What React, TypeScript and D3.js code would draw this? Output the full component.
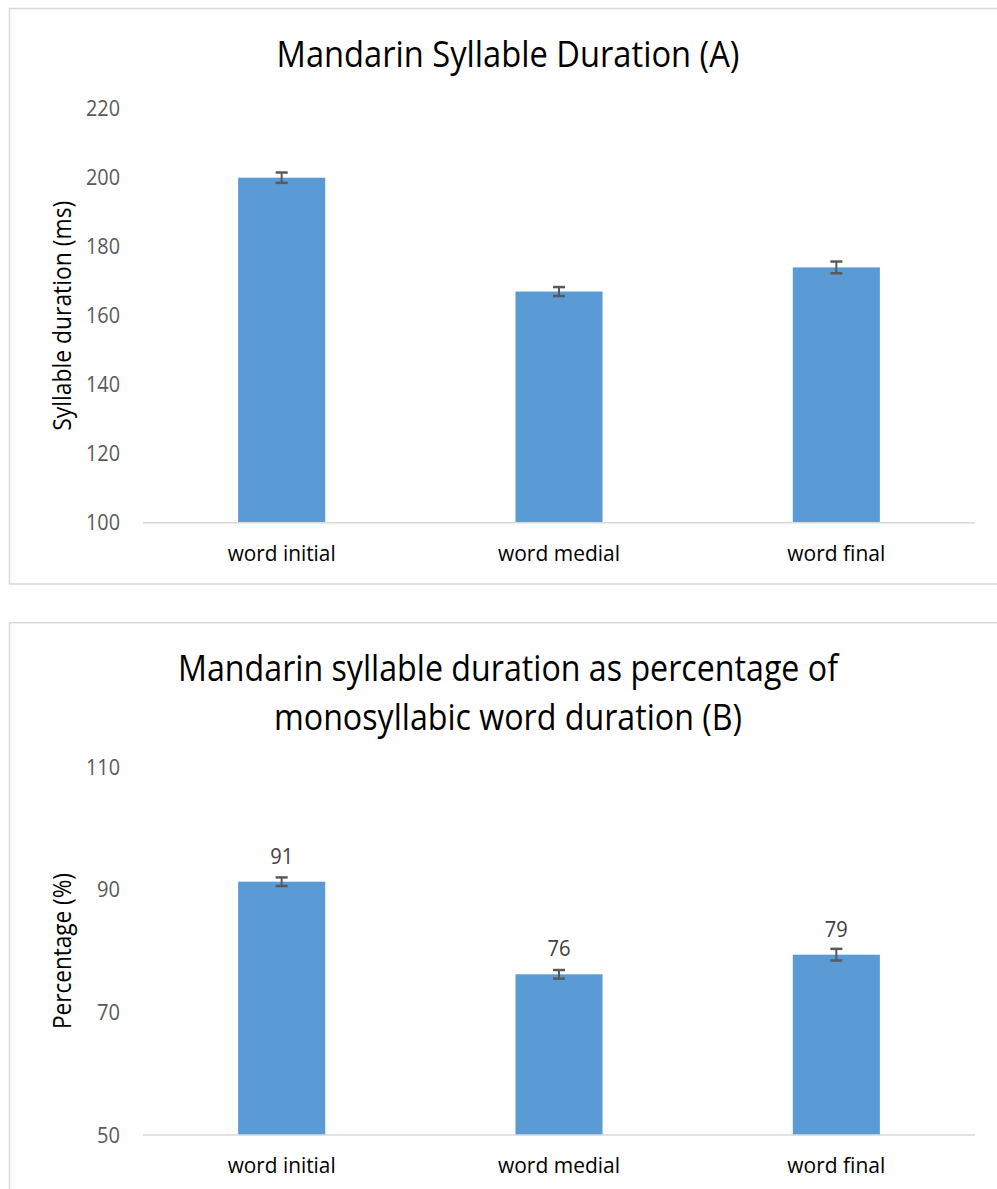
import React from "react";
import * as d3 from "d3";

const categories = ["word initial", "word medial", "word final"];
const durationMs = [200, 167, 174];
const durationErr = [1.5, 1.3, 1.7];
const durationTicks = [100, 120, 140, 160, 180, 200, 220];

const percentValues = [91.3, 76.2, 79.4];
const percentErr = [0.7, 0.7, 0.95];
const percentTicks = [50, 70, 90, 110];

const FONT = "'Open Sans', sans-serif";
const BAR = "#5b9bd5";
const GRAY = "#595959";
const LINE = "#d9d9d9";

type PanelProps = {
  top: number;
  bottom: number;
  axisY: number;
  plotTop: number;
  domain: [number, number];
  ticks: number[];
  values: number[];
  errs: number[];
  showLabels: boolean;
  yTitle: string;
  yTitleLen: number;
  titleLines: { text: string; y: number; len: number }[];
  panelBottom: number;
};

function Panel(p: PanelProps) {
  const x = d3
    .scaleBand<string>()
    .domain(categories)
    .range([143, 975])
    .paddingInner(0.686)
    .paddingOuter(0.343);
  const y = d3.scaleLinear().domain(p.domain).range([p.axisY, p.plotTop]);
  const midY = (p.axisY + p.plotTop) / 2;
  return (
    <g>
      <rect
        x={9.5}
        y={p.top}
        width={1000}
        height={p.panelBottom - p.top}
        fill="#fff"
        stroke={LINE}
        strokeWidth={1.5}
      />
      {p.titleLines.map((t, i) => (
        <text
          key={i}
          x={508}
          y={t.y}
          textAnchor="middle"
          fontFamily={FONT}
          fontSize={36}
          fill="#000"
          textLength={t.len}
          lengthAdjust="spacingAndGlyphs"
        >
          {t.text}
        </text>
      ))}
      <text
        transform={`translate(71,${midY}) rotate(-90)`}
        textAnchor="middle"
        fontFamily={FONT}
        fontSize={26}
        fill="#000"
        textLength={p.yTitleLen}
        lengthAdjust="spacingAndGlyphs"
      >
        {p.yTitle}
      </text>
      {p.ticks.map((t) => (
        <text
          key={t}
          x={120}
          y={y(t)}
          dy="0.36em"
          textAnchor="end"
          fontFamily={FONT}
          fontSize={21}
          fill={GRAY}
          textLength={t >= 100 ? 34 : 23}
          lengthAdjust="spacingAndGlyphs"
        >
          {t}
        </text>
      ))}
      {categories.map((c, i) => {
        const x0 = x(c)!;
        const cx = x0 + x.bandwidth() / 2;
        const v = p.values[i];
        const e = p.errs[i];
        return (
          <g key={c}>
            <rect
              x={x0}
              y={y(v)}
              width={x.bandwidth()}
              height={p.axisY - y(v)}
              fill={BAR}
            />
            <line x1={cx} x2={cx} y1={y(v + e)} y2={y(v - e)} stroke={GRAY} strokeWidth={2} />
            <line x1={cx - 6} x2={cx + 6} y1={y(v + e)} y2={y(v + e)} stroke={GRAY} strokeWidth={2.5} />
            <line x1={cx - 6} x2={cx + 6} y1={y(v - e)} y2={y(v - e)} stroke={GRAY} strokeWidth={2.5} />
            {p.showLabels && (
              <text
                x={cx}
                y={y(v) - 18}
                textAnchor="middle"
                fontFamily={FONT}
                fontSize={21}
                fill="#404040"
                textLength={23}
                lengthAdjust="spacingAndGlyphs"
              >
                {Math.round(v)}
              </text>
            )}
            <text
              x={cx}
              y={p.axisY + 38}
              textAnchor="middle"
              fontFamily={FONT}
              fontSize={22}
              fill="#000"
              textLength={c === "word final" ? 98 : c === "word medial" ? 122 : 108}
              lengthAdjust="spacingAndGlyphs"
            >
              {c}
            </text>
          </g>
        );
      })}
      <line x1={143} x2={975} y1={p.axisY} y2={p.axisY} stroke={LINE} strokeWidth={1.5} />
    </g>
  );
}

export default function App() {
  return (
    <svg
      width={997}
      height={1189}
      style={{ position: "absolute", left: 0, top: 0, background: "#fff" }}
    >
      <rect x={0} y={0} width={997} height={1189} fill="#fff" />
      <Panel
        top={8.5}
        panelBottom={584}
        axisY={522.7}
        plotTop={108.7}
        domain={[100, 220]}
        ticks={durationTicks}
        values={durationMs}
        errs={durationErr}
        showLabels={false}
        yTitle="Syllable duration (ms)"
        yTitleLen={230}
        titleLines={[{ text: "Mandarin Syllable Duration (A)", y: 66.7, len: 463 }]}
      />
      <Panel
        top={622.7}
        panelBottom={1250}
        axisY={1135}
        plotTop={767}
        domain={[50, 110]}
        ticks={percentTicks}
        values={percentValues}
        errs={percentErr}
        showLabels={true}
        yTitle="Percentage (%)"
        yTitleLen={156}
        titleLines={[
          { text: "Mandarin syllable duration as percentage of", y: 681, len: 660 },
          { text: "monosyllabic word duration (B)", y: 730, len: 468 },
        ]}
      />
    </svg>
  );
}
